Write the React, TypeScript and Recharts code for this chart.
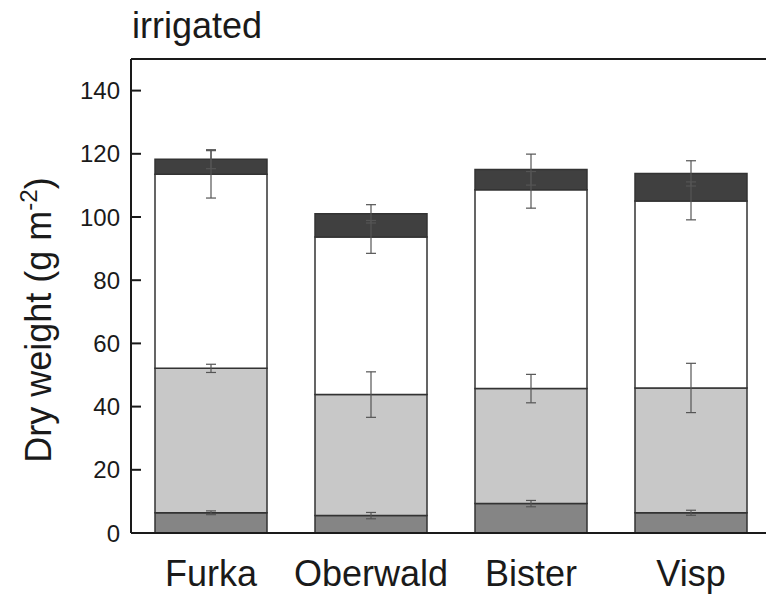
import React from 'react';
import { Bar, ComposedChart, ErrorBar, Line, ReferenceLine, XAxis, YAxis } from 'recharts';

// sites and the four stacked fractions (segment heights, g m-2), bottom to top
const sites = ['Furka', 'Oberwald', 'Bister', 'Visp'];
const part1 = [6.4, 5.5, 9.3, 6.4];
const part2 = [45.7, 38.3, 36.4, 39.5];
const part3 = [61.4, 49.9, 62.9, 59.2];
const part4 = [4.8, 7.3, 6.4, 8.7];

// error (± at each cumulative top)
const err1 = [0.6, 1.0, 1.0, 0.8];
const err2 = [1.3, 7.2, 4.5, 7.8];
const err3 = [7.5, 5.2, 5.8, 6.0];
const err4 = [3.0, 2.9, 4.9, 4.0];

const yTicks = [0, 20, 40, 60, 80, 100, 120, 140];

const data = sites.map((site, i) => {
  const c1 = part1[i];
  const c2 = c1 + part2[i];
  const c3 = c2 + part3[i];
  const c4 = c3 + part4[i];
  return {
    site,
    p1: part1[i],
    p2: part2[i],
    p3: part3[i],
    p4: part4[i],
    c1,
    c2,
    c3,
    c4,
    e1: err1[i],
    e2: err2[i],
    e3: err3[i],
    e4: err4[i],
  };
});

const FONT = '"Liberation Sans", Arial, sans-serif';
const INK = '#1a1a1a';
const EDGE = '#333';

const YTick = (props: any) => {
  const { x, y, payload } = props;
  return (
    <g>
      <line x1={x} x2={x + 10} y1={y} y2={y} stroke={INK} strokeWidth={2} />
      <text x={x - 11} y={y} dy="0.36em" textAnchor="end" fontSize={24} fill={INK} fontFamily={FONT}>
        {payload.value}
      </text>
    </g>
  );
};

const XTick = (props: any) => {
  const { x, y, payload } = props;
  return (
    <text x={x} y={y + 53} textAnchor="middle" fontSize={36} fill={INK} fontFamily={FONT}>
      {payload.value}
    </text>
  );
};

const YLabel = () => (
  <text
    transform="translate(51, 320) rotate(-90)"
    textAnchor="middle"
    fontSize={36}
    fill={INK}
    fontFamily={FONT}
  >
    <tspan>Dry weight (g m</tspan>
    <tspan dy={-14} fontSize={24}>-2</tspan>
    <tspan dy={14}>)</tspan>
  </text>
);

const segments = [
  { key: 'p1', fill: '#858585' },
  { key: 'p2', fill: '#c8c8c8' },
  { key: 'p3', fill: '#ffffff' },
  { key: 'p4', fill: '#404040' },
];

const tops = [
  { key: 'c1', err: 'e1' },
  { key: 'c2', err: 'e2' },
  { key: 'c3', err: 'e3' },
  { key: 'c4', err: 'e4' },
];

export default function App() {
  return (
    <div
      style={{
        position: 'absolute',
        left: 0,
        top: 0,
        width: 766,
        height: 595,
        overflow: 'hidden',
        background: '#fff',
        fontFamily: FONT,
      }}
    >
      <div
        style={{
          position: 'absolute',
          left: 132,
          top: 5,
          fontSize: 36,
          color: INK,
          lineHeight: 'normal',
        }}
      >
        irrigated
      </div>
      <ComposedChart
        width={771}
        height={595}
        data={data}
        margin={{ top: 59, right: 0, bottom: 0, left: 0 }}
      >
        <XAxis
          dataKey="site"
          height={62}
          tickLine={false}
          tickSize={0}
          tickMargin={0}
          axisLine={{ stroke: INK, strokeWidth: 2 }}
          tick={<XTick />}
        />
        <YAxis
          type="number"
          domain={[0, 150]}
          ticks={yTicks}
          width={131}
          tickLine={false}
          tickSize={0}
          tickMargin={0}
          axisLine={{ stroke: INK, strokeWidth: 2 }}
          tick={<YTick />}
          label={{ content: () => <YLabel /> }}
        />
        <ReferenceLine y={150} stroke={INK} strokeWidth={2} />
        {segments.map((s) => (
          <Bar
            key={s.key}
            dataKey={s.key}
            stackId="a"
            barSize={112}
            fill={s.fill}
            stroke={EDGE}
            strokeWidth={1.5}
            isAnimationActive={false}
          />
        ))}
        {tops.map((t) => (
          <Line
            key={t.key}
            dataKey={t.key}
            stroke="none"
            dot={false}
            activeDot={false}
            legendType="none"
            isAnimationActive={false}
          >
            <ErrorBar dataKey={t.err} direction="y" width={5} stroke="#555" strokeWidth={1.2} />
          </Line>
        ))}
      </ComposedChart>
    </div>
  );
}
